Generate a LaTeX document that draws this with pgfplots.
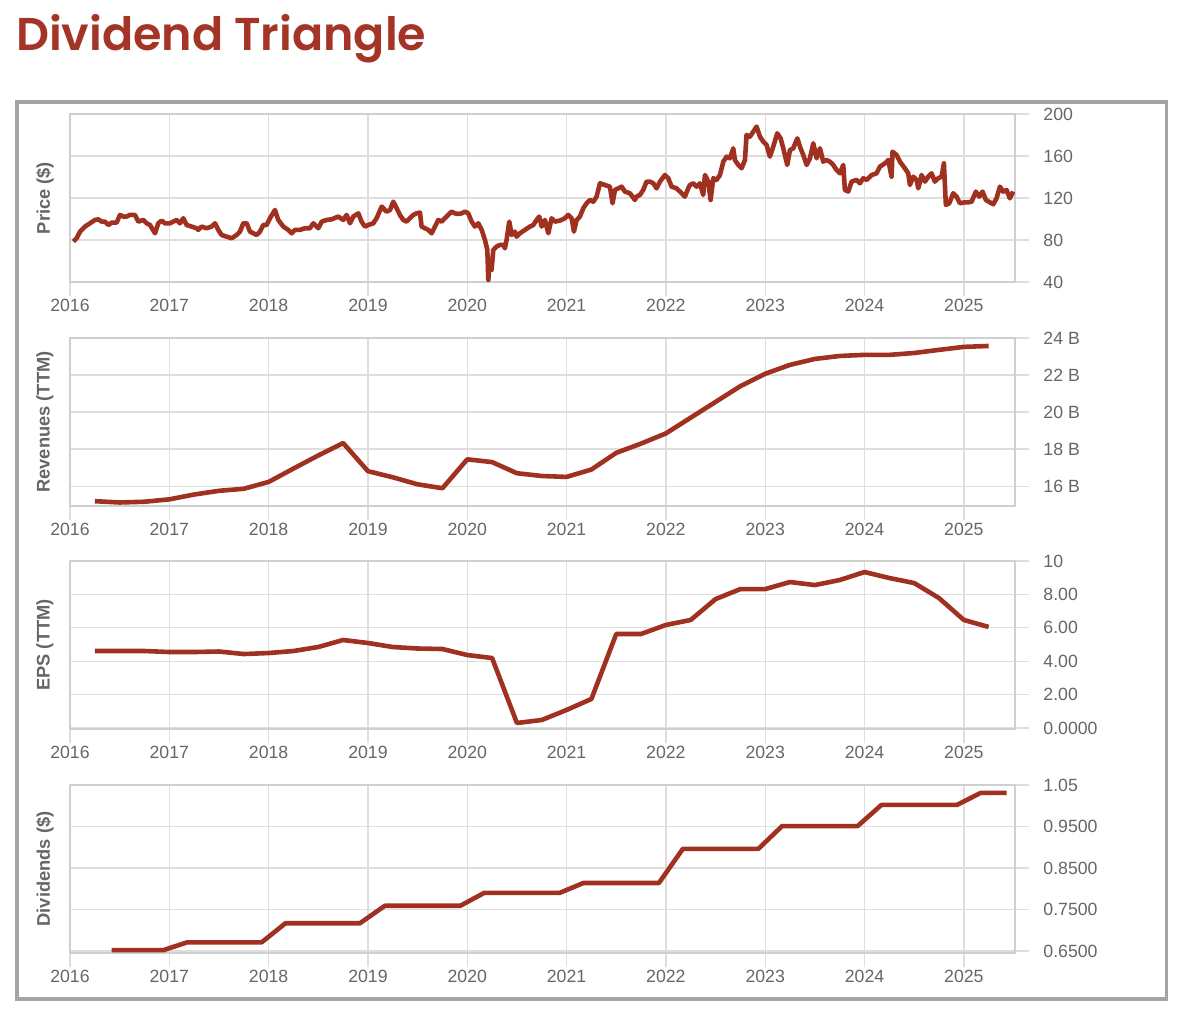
\documentclass[border=0pt]{standalone}
\usepackage{fontspec}
\setmainfont{Liberation Sans}
\newfontfamily\titlefont{Poppins}[UprightFont={* SemiBold}]
\usepackage{pgfplots}
\pgfplotsset{compat=1.18}

\definecolor{linec}{HTML}{A0301F}
\definecolor{titlec}{HTML}{A33426}
\definecolor{gridc}{HTML}{DEDEDE}
\definecolor{axisc}{HTML}{CFCFCF}
\definecolor{labc}{HTML}{666666}
\definecolor{framec}{HTML}{A4A4A4}

\newcommand\tickfont{\fontsize{17.7}{20}\selectfont}
\newcommand\labfont{\fontsize{18.3}{21}\selectfont\bfseries}

\pgfplotsset{
  panel/.style={
    scale only axis, width=945pt, height=168pt,
    xmin=2016, xmax=2025.515,
    xtick={2016,2017,2018,2019,2020,2021,2022,2023,2024,2025},
    xticklabels={2016,2017,2018,2019,2020,2021,2022,2023,2024,2025},
    xmajorgrids, ymajorgrids,
    grid style={draw=gridc, line width=1.3pt},
    axis line style={draw=axisc, line width=1.3pt},
    tick style={draw=gridc, line width=1.3pt},
    tick align=outside, major tick length=14pt,
    xtick pos=bottom, ytick pos=right, yticklabel pos=right,
    tick label style={font=\tickfont, text=labc},
    yticklabel style={xshift=11pt},
    ylabel style={font=\labfont, text=labc,
      at={(axis description cs:-0.0265,0.5)}, anchor=center},
    /pgf/number format/assume math mode=true,
  },
  dline/.style={draw=linec, line width=4.6pt, line join=round, no marks},
}

\begin{document}
\begin{tikzpicture}
\path[use as bounding box] (0,0) rectangle (1183pt,-1012pt);
\draw[framec, line width=3.2pt] (17pt,-102pt) rectangle (1166.5pt,-999pt);
\node[anchor=base west, inner sep=0pt, text=titlec,
  font=\titlefont\fontsize{46}{50}\selectfont] at (16pt,-50pt) {Dividend Triangle};

% Price
\begin{axis}[panel, at={(70pt,-282pt)}, anchor=south west,
  ymin=40, ymax=200, ytick={40,80,120,160,200},
  ylabel={Price (\$)}]
\addplot[dline, line width=4.6pt] coordinates {
(2016.034,78.5)(2016.067,81.7)(2016.101,88.0)(2016.151,92.8)(2016.201,95.9)
(2016.252,99.1)(2016.285,99.7)(2016.319,97.5)(2016.352,97.5)(2016.386,94.3)
(2016.420,96.6)(2016.470,96.6)(2016.503,103.9)(2016.537,102.3)(2016.570,102.3)
(2016.604,103.9)(2016.654,103.9)(2016.688,97.5)(2016.738,99.1)(2016.772,95.9)
(2016.805,94.3)(2016.856,86.4)(2016.889,95.9)(2016.923,98.5)(2016.956,95.9)
(2017.007,95.9)(2017.040,97.5)(2017.074,99.1)(2017.107,95.9)(2017.141,100.7)
(2017.174,94.3)(2017.225,92.8)(2017.275,91.2)(2017.292,89.6)(2017.325,92.8)
(2017.376,91.2)(2017.426,92.8)(2017.460,95.9)(2017.493,89.6)(2017.527,84.8)
(2017.577,83.2)(2017.628,81.7)(2017.678,84.8)(2017.711,88.0)(2017.745,95.9)
(2017.779,95.9)(2017.812,88.0)(2017.846,86.4)(2017.879,84.8)(2017.913,88.0)
(2017.946,94.3)(2017.980,94.3)(2018.013,100.7)(2018.064,108.6)(2018.097,99.1)
(2018.148,92.8)(2018.198,89.6)(2018.232,86.4)(2018.265,89.6)(2018.315,89.6)
(2018.366,91.2)(2018.416,91.2)(2018.450,95.9)(2018.500,91.2)(2018.534,97.5)
(2018.584,99.1)(2018.634,99.7)(2018.701,102.3)(2018.752,99.1)(2018.785,103.9)
(2018.819,95.9)(2018.852,102.3)(2018.903,105.4)(2018.936,97.5)(2018.970,92.8)
(2019.003,94.3)(2019.054,95.9)(2019.087,100.7)(2019.138,111.8)(2019.188,107.0)
(2019.222,108.6)(2019.255,116.5)(2019.289,110.2)(2019.322,103.9)(2019.356,99.1)
(2019.389,97.5)(2019.423,100.7)(2019.457,103.9)(2019.490,105.4)(2019.524,106.1)
(2019.540,92.8)(2019.574,91.2)(2019.608,89.6)(2019.641,86.4)(2019.675,92.8)
(2019.708,99.1)(2019.742,97.5)(2019.775,100.7)(2019.809,103.9)(2019.842,107.0)
(2019.876,105.4)(2019.910,104.8)(2019.943,105.4)(2019.977,107.0)(2020.010,105.4)
(2020.044,97.5)(2020.077,92.8)(2020.111,95.9)(2020.145,89.6)(2020.178,80.1)
(2020.202,70.5)(2020.212,42.0)(2020.228,61.0)(2020.245,51.5)(2020.262,70.5)
(2020.295,73.7)(2020.329,75.3)(2020.363,75.3)(2020.379,72.1)(2020.396,80.1)
(2020.423,97.5)(2020.447,84.8)(2020.480,88.0)(2020.497,83.2)(2020.530,86.4)
(2020.581,89.6)(2020.631,92.8)(2020.665,94.3)(2020.698,99.1)(2020.725,102.3)
(2020.749,92.8)(2020.782,99.1)(2020.816,86.4)(2020.849,100.7)(2020.883,97.5)
(2020.933,98.5)(2020.983,100.7)(2021.017,103.9)(2021.051,100.7)(2021.074,88.0)
(2021.101,99.1)(2021.134,102.3)(2021.168,110.2)(2021.202,115.0)(2021.235,118.1)
(2021.269,116.5)(2021.302,121.3)(2021.336,134.0)(2021.386,132.4)(2021.436,130.8)
(2021.463,115.0)(2021.487,127.7)(2021.520,129.2)(2021.554,130.8)(2021.587,126.1)
(2021.638,124.5)(2021.688,118.1)(2021.705,121.3)(2021.738,122.9)(2021.772,127.7)
(2021.805,135.6)(2021.839,135.6)(2021.873,134.0)(2021.906,129.2)(2021.940,135.6)
(2021.990,141.9)(2022.024,138.8)(2022.057,130.8)(2022.107,129.2)(2022.141,126.1)
(2022.191,121.3)(2022.225,129.2)(2022.242,132.4)(2022.276,134.0)(2022.309,130.8)
(2022.343,134.0)(2022.376,122.9)(2022.393,141.9)(2022.427,135.6)(2022.450,118.1)
(2022.477,138.8)(2022.510,137.2)(2022.544,141.9)(2022.578,154.6)(2022.611,159.4)
(2022.645,157.8)(2022.678,167.3)(2022.695,156.2)(2022.729,151.5)(2022.762,148.3)
(2022.796,156.2)(2022.812,180.0)(2022.846,178.4)(2022.880,183.2)(2022.913,188.0)
(2022.947,178.4)(2022.980,173.7)(2023.014,170.5)(2023.047,159.4)(2023.081,168.9)
(2023.121,181.6)(2023.155,176.8)(2023.182,167.3)(2023.222,151.5)(2023.249,165.7)
(2023.282,167.3)(2023.323,176.8)(2023.356,167.3)(2023.383,161.0)(2023.417,151.5)
(2023.450,157.8)(2023.484,172.1)(2023.517,157.8)(2023.551,167.3)(2023.584,154.6)
(2023.618,156.2)(2023.651,154.6)(2023.685,151.5)(2023.718,146.7)(2023.752,143.5)
(2023.786,151.5)(2023.802,127.7)(2023.836,126.1)(2023.870,135.6)(2023.920,137.2)
(2023.953,134.0)(2023.987,138.8)(2024.021,137.2)(2024.071,141.9)(2024.121,143.5)
(2024.155,149.9)(2024.205,153.0)(2024.239,156.2)(2024.272,140.3)(2024.282,164.1)
(2024.323,161.0)(2024.356,154.6)(2024.406,148.3)(2024.440,143.5)(2024.457,132.4)
(2024.490,140.3)(2024.524,137.2)(2024.541,129.2)(2024.574,141.9)(2024.608,135.6)
(2024.641,140.3)(2024.675,143.5)(2024.708,135.6)(2024.742,138.8)(2024.776,140.3)
(2024.799,153.0)(2024.819,113.4)(2024.853,115.0)(2024.893,124.5)(2024.927,121.3)
(2024.960,115.0)(2025.010,115.9)(2025.044,115.9)(2025.078,116.5)(2025.121,126.1)
(2025.155,121.3)(2025.188,126.1)(2025.222,118.1)(2025.262,115.9)(2025.296,114.0)
(2025.329,119.7)(2025.363,130.8)(2025.396,126.1)(2025.430,127.7)(2025.463,119.7)
(2025.497,126.1)
};
\end{axis}

% Revenues (TTM), billions
\begin{axis}[panel, at={(70pt,-506pt)}, anchor=south west,
  ymin=14.93, ymax=24, ytick={16,18,20,22,24},
  yticklabels={16 B,18 B,20 B,22 B,24 B},
  ylabel={Revenues (TTM)}]
\addplot[dline] coordinates {
(2016.25,15.19)(2016.50,15.12)(2016.75,15.16)(2017.00,15.29)(2017.25,15.55)
(2017.50,15.75)(2017.75,15.86)(2018.00,16.23)(2018.25,16.95)(2018.50,17.66)
(2018.75,18.33)(2019.00,16.81)(2019.25,16.48)(2019.50,16.10)(2019.75,15.89)
(2020.00,17.45)(2020.25,17.30)(2020.50,16.70)(2020.75,16.55)(2021.00,16.50)
(2021.25,16.90)(2021.50,17.80)(2021.75,18.30)(2022.00,18.85)(2022.25,19.70)
(2022.50,20.55)(2022.75,21.40)(2023.00,22.07)(2023.25,22.55)(2023.50,22.87)
(2023.75,23.03)(2024.00,23.09)(2024.25,23.09)(2024.50,23.19)(2024.75,23.36)
(2025.00,23.52)(2025.25,23.57)
};
\end{axis}

% EPS (TTM)
\begin{axis}[panel, at={(70pt,-729pt)}, anchor=south west,
  ymin=-0.06, ymax=10, ytick={0,2,4,6,8,10},
  yticklabels={0.0000,2.00,4.00,6.00,8.00,10},
  ylabel={EPS (TTM)}]
\addplot[dline] coordinates {
(2016.25,4.61)(2016.50,4.61)(2016.75,4.61)(2017.00,4.55)(2017.25,4.55)
(2017.50,4.58)(2017.75,4.43)(2018.00,4.49)(2018.25,4.61)(2018.50,4.85)
(2018.75,5.27)(2019.00,5.09)(2019.25,4.85)(2019.50,4.76)(2019.75,4.73)
(2020.00,4.37)(2020.25,4.19)(2020.50,0.30)(2020.75,0.48)(2021.00,1.08)
(2021.25,1.74)(2021.50,5.63)(2021.75,5.63)(2022.00,6.17)(2022.25,6.47)
(2022.50,7.72)(2022.75,8.32)(2023.00,8.32)(2023.25,8.74)(2023.50,8.56)
(2023.75,8.86)(2024.00,9.34)(2024.25,8.98)(2024.50,8.68)(2024.75,7.78)
(2025.00,6.47)(2025.25,6.05)
};
\end{axis}

% Dividends
\begin{axis}[panel, at={(70pt,-953pt)}, anchor=south west,
  ymin=0.6452, ymax=1.05, ytick={0.65,0.75,0.85,0.95,1.05},
  yticklabels={0.6500,0.7500,0.8500,0.9500,1.05},
  ylabel={Dividends (\$)}]
\addplot[dline] coordinates {
(2016.42,0.652)(2016.94,0.652)(2017.18,0.671)(2017.93,0.671)(2018.17,0.717)
(2018.92,0.717)(2019.17,0.759)(2019.93,0.759)(2020.17,0.790)(2020.93,0.790)
(2021.17,0.814)(2021.93,0.814)(2022.17,0.896)(2022.93,0.896)(2023.17,0.951)
(2023.93,0.951)(2024.17,1.002)(2024.93,1.002)(2025.17,1.031)(2025.43,1.031)
};
\end{axis}
\end{tikzpicture}
\end{document}
